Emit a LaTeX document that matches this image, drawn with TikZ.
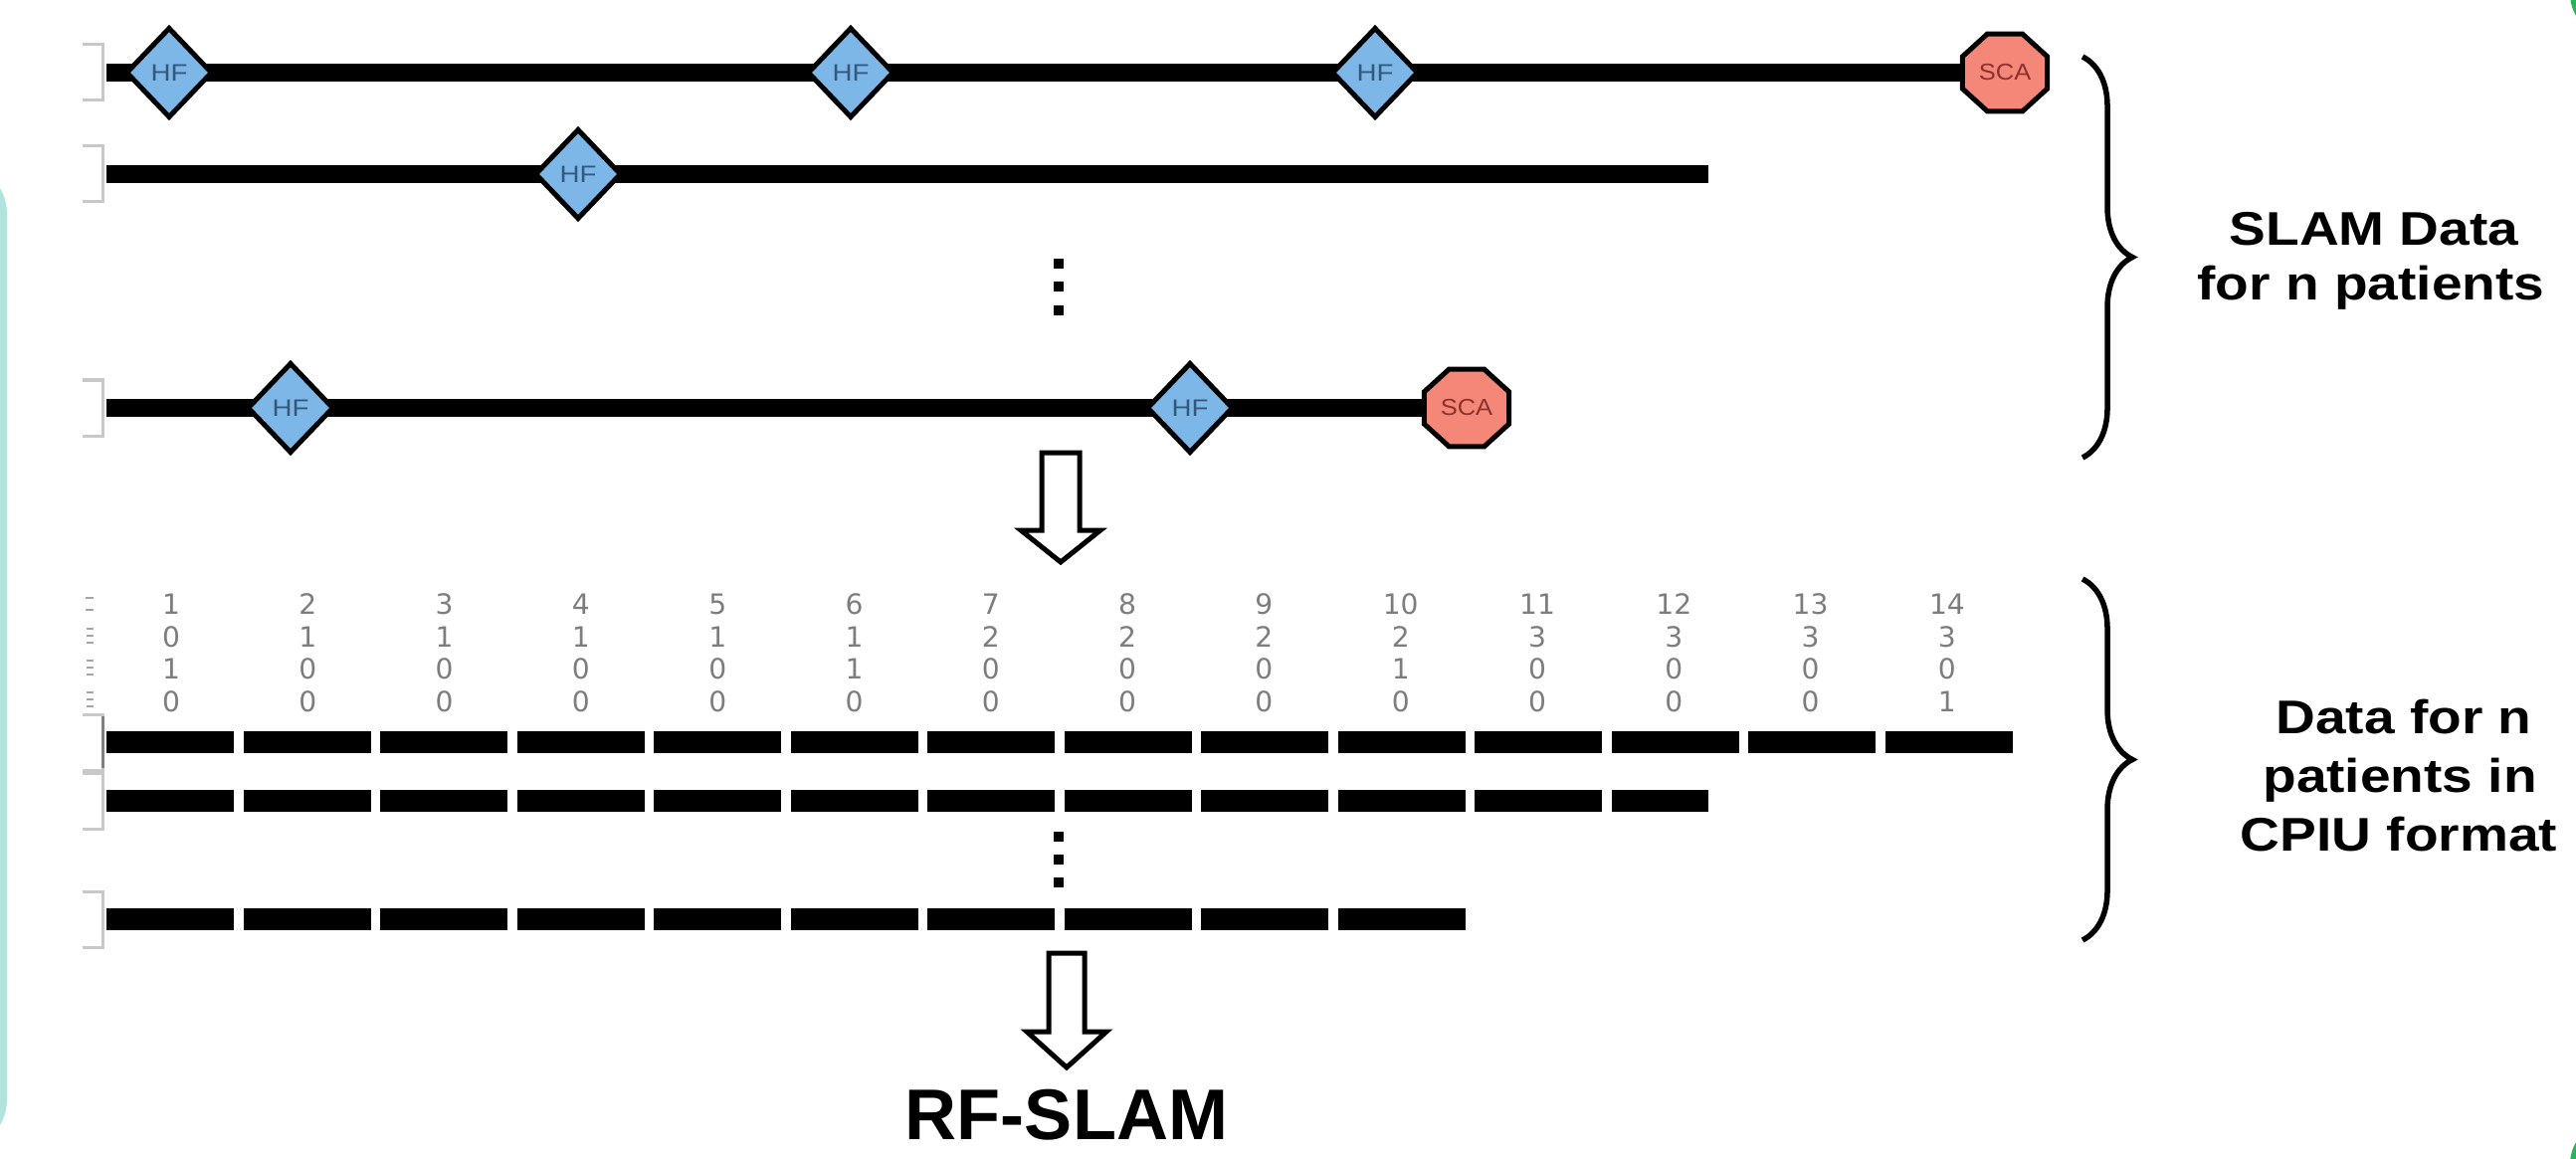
\documentclass[tikz,border=0pt]{standalone}
\usepackage{fontspec}
\setmainfont{Liberation Sans}
\newfontfamily\digitfont{DejaVu Sans}
\usetikzlibrary{shapes.geometric,decorations.pathreplacing}
\pgfdeclarelayer{bg}
\pgfsetlayers{bg,main}
\newcommand\stx[1]{\scalebox{1.16}[1]{#1}}
\definecolor{hfblue}{RGB}{125,183,232}
\definecolor{hftext}{RGB}{50,88,125}
\definecolor{scared}{RGB}{245,135,120}
\definecolor{scatext}{RGB}{140,50,45}
\definecolor{tealb}{RGB}{178,228,222}
\definecolor{greenb}{RGB}{40,180,90}
\definecolor{numgray}{RGB}{125,125,125}
\definecolor{brgray}{RGB}{200,200,200}
\definecolor{fraggray}{RGB}{165,165,165}
\begin{document}
\begin{tikzpicture}[x=0.01cm,y=-0.01cm,
 tl/.style={line width=0.185cm},
 hfnode/.style={diamond, draw=black, line width=0.05cm, fill=hfblue, inner sep=0pt, minimum width=0.87cm, minimum height=0.91cm, text=hftext, font=\fontsize{6.8}{7}\selectfont},
 scanode/.style={regular polygon, regular polygon sides=8, draw=black, line width=0.05cm, fill=scared, inner sep=0pt, minimum size=0.84cm, text=scatext, font=\fontsize{6.6}{7}\selectfont},
 num/.style={text=numgray, font=\digitfont\fontsize{8}{9}\selectfont, anchor=base, inner sep=0pt},
 lab/.style={font=\bfseries\fontsize{13.5}{15}\selectfont, anchor=base, inner sep=0pt},
 bracketl/.style={draw=brgray, line width=0.03cm},
 frag/.style={draw=fraggray, line width=0.025cm},
 bracebig/.style={decorate, decoration={brace, amplitude=0.5cm}, line width=0.055cm},
 hollow/.style={draw=black, fill=white, line width=0.05cm, line join=miter}
]
\useasboundingbox (0,0) rectangle (2589,1164);
\clip (0,0) rectangle (2589,1164);

% frame fragments
\draw[tealb, line width=0.14cm, rounded corners=0.45cm] (-300,170) rectangle (0,1150);
\draw[greenb, line width=0.06cm, rounded corners=0.4cm] (2586,-100) -- (2586,34) -- (2750,34);
\draw[greenb, line width=0.06cm, rounded corners=0.4cm] (2586,1300) -- (2586,1130) -- (2750,1130);

% left brackets
\foreach \yy in {73,175,410,805,924}
  \draw[bracketl] (83,\yy-28) -- (103,\yy-28) -- (103,\yy+28) -- (83,\yy+28);
\draw[bracketl] (83,718) -- (103,718) -- (103,774) -- (83,774);
\draw[draw=gray, line width=0.03cm] (103,720) -- (103,772);

% clipped fragments of the left row labels
\draw[frag] (86,601) -- (94,601) (86,613) -- (94,613);
\foreach \yy in {639,671,703}
  \draw[frag] (87,\yy-7) -- (94,\yy-7) (87,\yy) -- (94,\yy) (87,\yy+7) -- (94,\yy+7);

% SLAM timelines
\coordinate (r1s) at (107,73);
\coordinate (r2s) at (107,175);
\coordinate (r2e) at (1717,175);
\coordinate (r3s) at (107,410);

\node[hfnode] (hf11) at (170,73) {\stx{HF}};
\node[hfnode] (hf12) at (855,73) {\stx{HF}};
\node[hfnode] (hf13) at (1382,73) {\stx{HF}};
\begin{scope}[shift={(2015,73)},xscale=1.1]
 \node[scanode, transform shape] (sca1) at (0,0) {SCA};
\end{scope}
\node[hfnode] (hf21) at (581,175) {\stx{HF}};
\node[hfnode] (hf31) at (292,410) {\stx{HF}};
\node[hfnode] (hf32) at (1196,410) {\stx{HF}};
\begin{scope}[shift={(1474,410)},xscale=1.1]
 \node[scanode, transform shape] (sca3) at (0,0) {SCA};
\end{scope}

\begin{pgfonlayer}{bg}
 \draw[tl] (r1s) -- (hf11.center) -- (hf12.center) -- (hf13.center) -- (sca1.center);
 \draw[tl] (r2s) -- (hf21.center) -- (r2e);
 \draw[tl] (r3s) -- (hf31.center) -- (hf32.center) -- (sca3.center);
\end{pgfonlayer}

% vertical dots
\foreach \yy in {265,288,312} \fill (1059,\yy-5) rectangle ++(10,10);
\foreach \yy in {841,864,887} \fill (1059,\yy-5) rectangle ++(10,10);

% hollow arrows
\draw[hollow] (1047,455) -- (1085,455) -- (1085,533) -- (1106,533) -- (1066,565) -- (1026,533) -- (1047,533) -- cycle;
\draw[hollow] (1054,958) -- (1090,958) -- (1090,1037) -- (1112,1037) -- (1072,1073) -- (1032,1037) -- (1054,1037) -- cycle;

% CPIU numbers
\foreach \i/\b/\c/\d in {1/0/1/0,2/1/0/0,3/1/0/0,4/1/0/0,5/1/0/0,6/1/1/0,7/2/0/0,8/2/0/0,9/2/0/0,10/2/1/0,11/3/0/0,12/3/0/0,13/3/0/0,14/3/0/1}{
 \pgfmathsetmacro\cx{172+(\i-1)*137.3}
 \node[num] (ka\i) at (\cx,617) {\i};
 \node[num] (kb\i) at (\cx,650) {\b};
 \node[num] (kc\i) at (\cx,682) {\c};
 \node[num] (kd\i) at (\cx,715) {\d};
}

% CPIU segments
\foreach \i in {0,...,13} \fill (107+\i*137.5,735) rectangle ++(128,22);
\foreach \i in {0,...,10} \fill (107+\i*137.5,794) rectangle ++(128,22);
\fill (1619.5,794) rectangle (1717,816);
\foreach \i in {0,...,9} \fill (107+\i*137.5,913) rectangle ++(128,22);

% braces
\draw[bracebig] (2093,57) -- (2093,460);
\draw[bracebig] (2093,582) -- (2093,945);

% labels
\node[lab] (sl1) at (2386,247) {\stx{SLAM Data}};
\node[lab] (sl2) at (2383,302) {\stx{for n patients}};
\node[lab] (cp1) at (2416,737) {\stx{Data for n}};
\node[lab] (cp2) at (2412,796) {\stx{patients in}};
\node[lab] (cp3) at (2411,855) {\stx{CPIU format}};
\node[font=\bfseries\fontsize{20.5}{24}\selectfont, anchor=base, inner sep=0pt] (rf) at (1072,1145) {RF-SLAM};
\end{tikzpicture}
\end{document}
